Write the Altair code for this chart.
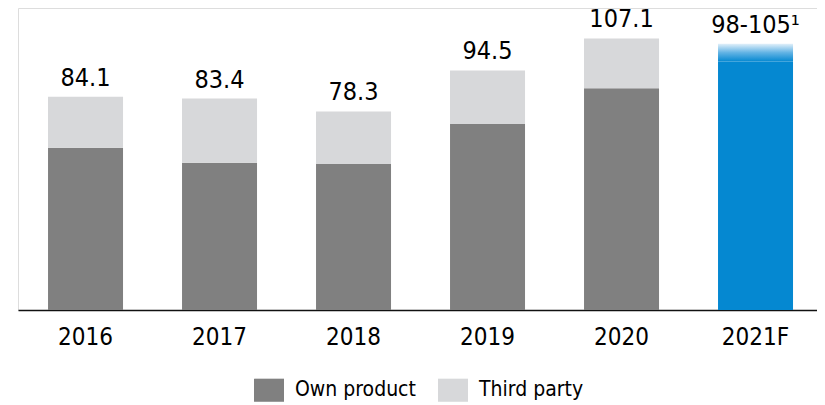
import altair as alt
import pandas as pd

FONT = "DejaVu Sans Condensed, Roboto, sans-serif"

years_all = ["2016", "2017", "2018", "2019", "2020", "2021F"]
years = ["2016", "2017", "2018", "2019", "2020"]
own_product = [64.0, 58.1, 57.6, 73.4, 87.5]
third_party = [20.1, 25.3, 20.7, 21.1, 19.6]
totals = [84.1, 83.4, 78.3, 94.5, 107.1]
total_labels = ["84.1", "83.4", "78.3", "94.5", "107.1"]
forecast_year = "2021F"
forecast_low = 98
forecast_high = 105
forecast_label = "98-105\u00b9"

series_names = ["Own product", "Third party"]
series_colors = ["#808080", "#d7d8da"]
blue = "#0588D1"

rows = []
for y, o, t in zip(years, own_product, third_party):
    rows.append({"year": y, "series": "Own product", "value": o, "ord": 0})
    rows.append({"year": y, "series": "Third party", "value": t, "ord": 1})
stack_df = pd.DataFrame(rows)

label_df = pd.DataFrame({
    "year": years + [forecast_year],
    "top": totals + [forecast_high],
    "label": total_labels + [forecast_label],
})
fc_df = pd.DataFrame({"year": [forecast_year], "low": [forecast_low], "high": [forecast_high]})

x_scale = alt.Scale(domain=years_all, paddingInner=0.4403, paddingOuter=0.2015, align=0.556)
y_scale = alt.Scale(domain=[0, 119.1], nice=False, zero=True)

x_enc = alt.X("year:N", scale=x_scale, sort=years_all,
              axis=alt.Axis(title=None, ticks=False, domainColor="#111111", domainWidth=1.5,
                            labelFontSize=24, labelFont=FONT, labelColor="#000000",
                            labelPadding=15, labelAngle=0))

stack = alt.Chart(stack_df).mark_bar(stroke=None).encode(
    x=x_enc,
    y=alt.Y("value:Q", scale=y_scale, axis=None, stack="zero"),
    color=alt.Color("series:N", scale=alt.Scale(domain=series_names, range=series_colors),
                    sort=series_names,
                    legend=alt.Legend(title=None, orient="none", direction="horizontal",
                                      legendX=236, legendY=367, padding=0,
                                      symbolType="M-1,-0.77H1V0.77H-1Z", symbolSize=900,
                                      symbolStrokeWidth=0, labelFontSize=21, labelFont=FONT,
                                      labelColor="#000000", labelOffset=11, columnPadding=22)),
    order=alt.Order("ord:Q", sort="ascending"),
)

fc_solid = alt.Chart(fc_df).mark_bar(color=blue).encode(
    x=alt.X("year:N", scale=x_scale, sort=years_all),
    y=alt.Y("low:Q", scale=y_scale),
)

fc_grad = alt.Chart(fc_df).mark_bar(
    color=alt.Gradient(gradient="linear", x1=0, y1=0, x2=0, y2=1,
                       stops=[alt.GradientStop(offset=0, color="#e1f0fa"),
                              alt.GradientStop(offset=0.5, color="#62b3e4"),
                              alt.GradientStop(offset=1, color=blue)])
).encode(
    x=alt.X("year:N", scale=x_scale, sort=years_all),
    y=alt.Y("low:Q", scale=y_scale),
    y2="high:Q",
)

labels = alt.Chart(label_df).mark_text(fontSize=25, font=FONT, color="#000000", dy=-11,
                                       baseline="alphabetic").encode(
    x=alt.X("year:N", scale=x_scale, sort=years_all),
    y=alt.Y("top:Q", scale=y_scale),
    text="label:N",
)

chart = alt.layer(stack, fc_solid, fc_grad, labels).properties(
    width=799, height=302,
    autosize=alt.AutoSizeParams(type="none"),
    padding={"left": 10, "top": 0, "right": 0, "bottom": 92},
).configure_view(stroke=None).configure(background="white")

chart.save("out.html", embed_options={"renderer": "svg", "actions": False})
